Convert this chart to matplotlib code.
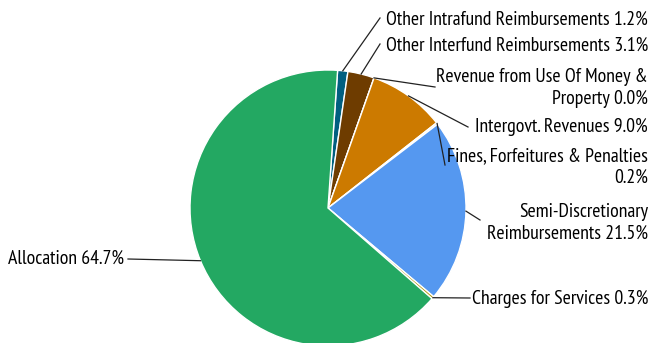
import numpy as np
import matplotlib.pyplot as plt

plt.rcParams["font.family"] = ["PT Sans Narrow", "Fira Sans Condensed",
                               "Barlow Semi Condensed", "Archivo Narrow",
                               "DejaVu Sans"]

categories = [
    "Other Intrafund Reimbursements",
    "Other Interfund Reimbursements",
    "Revenue from Use Of Money & Property",
    "Intergovt. Revenues",
    "Fines, Forfeitures & Penalties",
    "Semi-Discretionary Reimbursements",
    "Charges for Services",
    "Allocation",
]
shares = [1.2, 3.1, 0.0, 9.0, 0.2, 21.5, 0.3, 64.7]
label_texts = [
    "Other Intrafund Reimbursements 1.2%",
    "Other Interfund Reimbursements 3.1%",
    "Revenue from Use Of Money &\nProperty 0.0%",
    "Intergovt. Revenues 9.0%",
    "Fines, Forfeitures & Penalties\n0.2%",
    "Semi-Discretionary\nReimbursements 21.5%",
    "Charges for Services 0.3%",
    "Allocation 64.7%",
]
colors = ["#015F80", "#6E3C00", "#9A6A2E", "#CC7A00", "#F2E3A2",
          "#5598F0", "#B39B10", "#23A862"]

# layout: text anchor (x, y from top), alignment, leader line end (x, y from top)
H = 343
text_pos = [(648, 20), (648, 46), (648, 88), (648, 127), (648, 167),
            (648, 223), (472, 299), (8, 259)]
text_ha = ["right"] * 6 + ["left", "left"]
line_end = [(380, 18), (380, 44), (435, 87), (468, 127), (445, 165),
            (480, 220), (470, 298), (128, 259)]

fig = plt.figure(figsize=(6.53, 3.43), dpi=100)
ax = fig.add_axes([0, 0, 1, 1])

cx, cy, r = 328, H - 208, 138
wedges, _ = ax.pie(
    shares,
    colors=colors,
    startangle=86,
    counterclock=False,
    center=(cx, cy),
    radius=r,
    wedgeprops=dict(edgecolor="white", linewidth=1),
    frame=True,
)
ax.set_xlim(0, 653)
ax.set_ylim(0, H)
ax.set_aspect("equal")
ax.axis("off")

for w, txt, (tx, ty), ha, (lx, ly) in zip(wedges, label_texts, text_pos,
                                          text_ha, line_end):
    ang = np.deg2rad((w.theta1 + w.theta2) / 2)
    px, py = cx + r * np.cos(ang), cy + r * np.sin(ang)
    ax.plot([px, lx], [py, H - ly], color="#222222", lw=0.9, zorder=5)
    ax.text(tx, H - ty, txt, ha=ha, va="center", fontsize=14.2,
            linespacing=1.3, color="black")

fig.savefig("out.png", dpi=100)
